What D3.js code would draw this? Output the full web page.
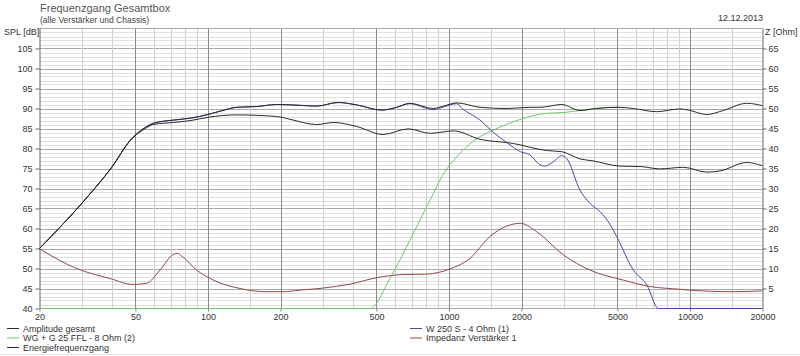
<!DOCTYPE html>
<html>
<head>
<meta charset="utf-8">
<script src="https://cdn.jsdelivr.net/npm/d3@7"></script>
<style>
  body { margin: 0; background: #fff; }
  svg { display: block; font-family: "Liberation Sans", Arial, sans-serif; }
</style>
</head>
<body>
<svg id="chart" width="800" height="356"></svg>
<script>
// measured curves, [frequency Hz, value]
const amplitude = [
  [20, 55], [33, 69.2], [40, 75.4], [47.5, 82], [55, 85.3], [59.3, 86.3], [71.8, 87.1],
  [85, 87.6], [100, 88.5], [115, 89.5], [131.6, 90.3], [160, 90.5], [192.8, 91], [240, 90.8],
  [282, 90.6], [347, 91.5], [414, 90.9], [526, 89.6], [600, 90.2], [689, 91.3], [861, 90],
  [950, 90.6], [1077, 91.4], [1346, 90.3], [1737, 90], [2168, 90.3], [2389, 90.3], [2937, 91],
  [3497, 89.5], [4080, 90], [5126, 90.3], [5824, 90], [7281, 89.2], [9095, 89.9], [9861, 89.6],
  [11736, 88.5], [13758, 89.5], [17190, 91.3], [20000, 90.7]
];
const energie = [
  [20, 55], [33, 69.2], [40, 75.4], [47.5, 82], [55, 85], [59.3, 86], [71.8, 86.5],
  [85, 87], [100, 87.8], [131.6, 88.4], [192.8, 88], [219, 87.3], [282, 86], [333, 86.5],
  [414, 85.5], [533, 83.5], [677, 84.9], [836, 83.8], [1045, 84.4], [1134, 84], [1307, 82.5],
  [1478, 81.9], [1737, 81.5], [1979, 80.9], [2168, 80.3], [2541, 79.5], [2937, 79.2], [3497, 77.4],
  [3960, 76.9], [5126, 75.6], [6209, 75.5], [7508, 74.9], [9389, 75.3], [11736, 74.1],
  [13339, 74.4], [17190, 76.5], [20000, 75.7]
];
const tweeter = [
  [20, 40], [470, 40], [569, 47.5], [689, 57.1], [758, 62.1], [876, 69.6], [918, 72.1],
  [1112, 78.8], [1307, 82.5], [1478, 84.2], [1855, 86.7], [2168, 88], [2541, 88.8], [2985, 89],
  [3614, 89.6], [4664, 90.3], [5126, 90.3]
];
const woofer = [
  [20, 55], [33, 69.2], [40, 75.4], [47.5, 82], [55, 85.3], [59.3, 86.3], [71.8, 87.1],
  [85, 87.6], [100, 88.5], [115, 89.5], [131.6, 90.3], [160, 90.5], [192.8, 91], [240, 90.8],
  [282, 90.6], [347, 91.5], [414, 90.9], [526, 89.6], [600, 90.2], [689, 91.2], [861, 89.7],
  [950, 90.4], [1077, 91.2], [1134, 90], [1346, 87.1], [1517, 84.2], [1737, 81.5], [1979, 79.2],
  [2168, 78.4], [2389, 75.9], [2500, 75.6], [2700, 76.6], [2937, 78.2], [3080, 77.5], [3497, 69.6],
  [3845, 66.3], [4236, 64.2], [4664, 61], [4966, 58], [5824, 49.6], [6623, 45.9],
  [7400, 40], [20000, 40]
];
const impedance = [ // Ohm, right axis
  [20, 14.9], [28.5, 10], [39.2, 7.5], [49, 6], [55.6, 6.3], [63.2, 9.6], [71.8, 13.5], [74.5, 13.8],
  [77.8, 13.1], [89.8, 9.6], [105.3, 7.1], [135.8, 5], [175, 4.2], [205, 4.2], [241, 4.6],
  [300, 5.1], [389, 6.1], [501, 7.7], [650, 8.5], [809, 8.6], [1010, 9.9], [1222, 12.5],
  [1478, 18], [1737, 20.6], [1979, 21.3], [2313, 19.2], [2985, 13.4], [3845, 9.6], [5288, 7.1],
  [6821, 5.5], [9095, 4.8], [9861, 4.6], [15134, 4.2], [20000, 4.4]
];

// axis ticks
const freqLabels = [20, 50, 100, 200, 500, 1000, 2000, 5000, 10000, 20000];
const freqGrid = [30, 40, 60, 70, 80, 90, 150, 300, 400, 600, 700, 800, 900, 1500,
  3000, 4000, 6000, 7000, 8000, 9000, 15000];
const splLabels = [40, 45, 50, 55, 60, 65, 70, 75, 80, 85, 90, 95, 100, 105];
const ohmLabels = [5, 10, 15, 20, 25, 30, 35, 40, 45, 50, 55, 60, 65];

const svg = d3.select("#chart");

const x = d3.scaleLog().domain([20, 20000]).range([39.5, 762.5]);
const y = d3.scaleLinear().domain([40, 110]).range([308.5, 28.5]);
const z = d3.scaleLinear().domain([0, 70]).range([308.5, 28.5]);

// horizontal grid, every dB light, every 5 dB darker
svg.append("g").selectAll("line")
  .data(d3.range(41, 110))
  .join("line")
  .attr("x1", x(20)).attr("x2", x(20000))
  .attr("y1", d => Math.round(y(d)) + 0.5).attr("y2", d => Math.round(y(d)) + 0.5)
  .attr("stroke", d => d % 5 == 0 ? "#a8a8a8" : "#e0e0e0");

// vertical grid
svg.append("g").selectAll("line")
  .data(freqGrid.concat(freqLabels.slice(1, -1)))
  .join("line")
  .attr("x1", d => Math.round(x(d)) + 0.5).attr("x2", d => Math.round(x(d)) + 0.5)
  .attr("y1", y(110)).attr("y2", y(40))
  .attr("stroke", d => freqLabels.includes(d) ? "#8a8a8a" : "#cfcfcf");

// frame
svg.append("line").attr("x1", x(20)).attr("x2", x(20000)).attr("y1", 28.5).attr("y2", 28.5).attr("stroke", "#a8a8a8");
svg.append("line").attr("x1", x(20)).attr("x2", x(20000)).attr("y1", 308.5).attr("y2", 308.5).attr("stroke", "#a8a8a8");

// left axis
const yAxis = svg.append("g")
  .attr("transform", `translate(${x(20)},0)`)
  .call(d3.axisLeft(y).tickValues(splLabels).tickSize(4).tickPadding(3));
yAxis.select(".domain").attr("stroke", "#666").attr("d", "M0.5,28.5V308.5");
yAxis.selectAll("line").attr("stroke", "#666");
yAxis.selectAll("text").attr("font-size", 9).attr("fill", "#333");

// right axis
const zAxis = svg.append("g")
  .attr("transform", `translate(${x(20000)},0)`)
  .call(d3.axisRight(z).tickValues(ohmLabels).tickSize(4).tickPadding(2));
zAxis.select(".domain").attr("stroke", "#666").attr("d", "M0.5,28.5V308.5");
zAxis.selectAll("line").attr("stroke", "#666");
zAxis.selectAll("text").attr("font-size", 9).attr("fill", "#333");

// bottom axis
const xAxis = svg.append("g")
  .attr("transform", `translate(0,308.5)`)
  .call(d3.axisBottom(x).tickValues(freqLabels).tickFormat(d3.format("d")).tickSize(3).tickPadding(2));
xAxis.select(".domain").remove();
xAxis.selectAll("line").attr("stroke", "#888");
xAxis.selectAll("text").attr("font-size", 9).attr("fill", "#333");

// curves
const splLine = d3.line().x(d => x(d[0])).y(d => y(d[1])).curve(d3.curveMonotoneX);
const ohmLine = d3.line().x(d => x(d[0])).y(d => z(d[1])).curve(d3.curveMonotoneX);

const series = [
  { data: tweeter, line: splLine, color: "#6cc86c" },
  { data: woofer, line: splLine, color: "#4848a8" },
  { data: impedance, line: ohmLine, color: "#8e4a4a" },
  { data: energie, line: splLine, color: "#2a2a2a" },
  { data: amplitude, line: splLine, color: "#2a2a2a" },
];
series.forEach(s => {
  svg.append("path")
    .attr("d", s.line(s.data))
    .attr("fill", "none")
    .attr("stroke", s.color)
    .attr("stroke-width", 1);
});

// header texts
svg.append("text").attr("x", 40).attr("y", 12).attr("font-size", 11).attr("fill", "#555").text("Frequenzgang Gesamtbox");
svg.append("text").attr("x", 40).attr("y", 23).attr("font-size", 8.5).attr("fill", "#444").text("(alle Verstärker und Chassis)");
svg.append("text").attr("x", 4).attr("y", 35).attr("font-size", 9).attr("fill", "#333").text("SPL [dB]");
svg.append("text").attr("x", 763).attr("y", 21).attr("font-size", 9).attr("fill", "#333").attr("text-anchor", "end").text("12.12.2013");
svg.append("text").attr("x", 765).attr("y", 35).attr("font-size", 9).attr("fill", "#333").text("Z [Ohm]");

// legend
const legendNames = ["Amplitude gesamt", "WG + G 25 FFL - 8 Ohm (2)", "Energiefrequenzgang", "W 250 S - 4 Ohm (1)", "Impedanz Verstärker 1"];
const legendColors = ["#2a2a2a", "#6cc86c", "#2a2a2a", "#4848a8", "#8e4a4a"];
const legendPos = [[7, 328.5], [7, 338], [7, 347.5], [410, 328.5], [410, 338]];
const legend = svg.append("g").selectAll("g")
  .data(legendNames)
  .join("g")
  .attr("transform", (d, i) => `translate(${legendPos[i][0]},${legendPos[i][1]})`);
legend.append("line").attr("x1", 0).attr("x2", 12).attr("stroke", (d, i) => legendColors[i]);
legend.append("text").attr("x", 16).attr("y", 3).attr("font-size", 9).attr("fill", "#333").text(d => d);

// light panel edge at the bottom
svg.append("line").attr("x1", 0).attr("x2", 800).attr("y1", 354.5).attr("y2", 354.5).attr("stroke", "#e6e6e6");
</script>
</body>
</html>
